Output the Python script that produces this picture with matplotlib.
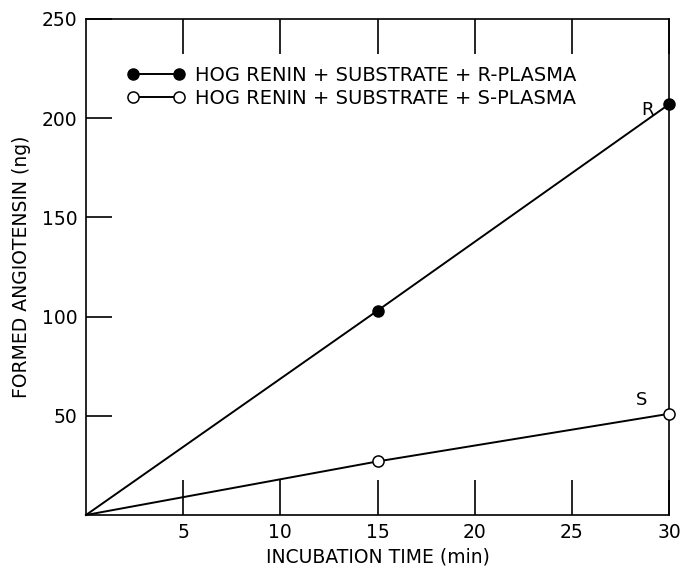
import matplotlib
matplotlib.use("Agg")
import matplotlib.pyplot as plt

time_min = [0, 15, 30]
r_plasma = [0, 103, 207]
s_plasma = [0, 27, 51]
x_ticks = [5, 10, 15, 20, 25, 30]
y_ticks = [50, 100, 150, 200, 250]
label_r = "HOG RENIN + SUBSTRATE + R-PLASMA"
label_s = "HOG RENIN + SUBSTRATE + S-PLASMA"

plt.rcParams['font.family'] = ['DejaVu Sans']
fig = plt.figure(figsize=(6.81, 5.70), dpi=100)
ax = fig.add_axes([86/681, 1-515/570, 583/681, 496/570])

ax.plot(time_min, r_plasma, color='black', lw=1.4, marker='o', ms=8,
        mfc='black', mec='black', label=label_r, clip_on=False, zorder=3,
        markevery=[1, 2])
ax.plot(time_min, s_plasma, color='black', lw=1.4, marker='o', ms=8,
        mfc='white', mec='black', mew=1.1, label=label_s, clip_on=False, zorder=3,
        markevery=[1, 2])

ax.set_xlim(0, 30)
ax.set_ylim(0, 250)
ax.set_xticks(x_ticks)
ax.set_yticks(y_ticks)
ax.set_xticklabels([str(v) for v in x_ticks], fontsize=13.5)
ax.set_yticklabels([str(v) for v in y_ticks], fontsize=13.5)
ax.tick_params(axis='x', direction='in', length=25, width=1.2, top=True, pad=6)
ax.tick_params(axis='y', direction='in', length=19, width=1.2, pad=6)
for s in ax.spines.values():
    s.set_linewidth(1.2)

ax.set_xlabel("INCUBATION TIME (min)", fontsize=13.5, labelpad=4)
ax.set_ylabel("FORMED ANGIOTENSIN (ng)", fontsize=13.5, labelpad=8)

ax.text(29.2, 204, "R", fontsize=13, ha='right', va='center')
ax.text(28.9, 58, "S", fontsize=13, ha='right', va='center')

leg = ax.legend(loc='upper left', bbox_to_anchor=(0.07, 0.905), frameon=False,
                numpoints=2, handlelength=3.0, handletextpad=0.5,
                labelspacing=0.2, fontsize=14, borderpad=0, borderaxespad=0)

fig.savefig("out.png", dpi=100)
